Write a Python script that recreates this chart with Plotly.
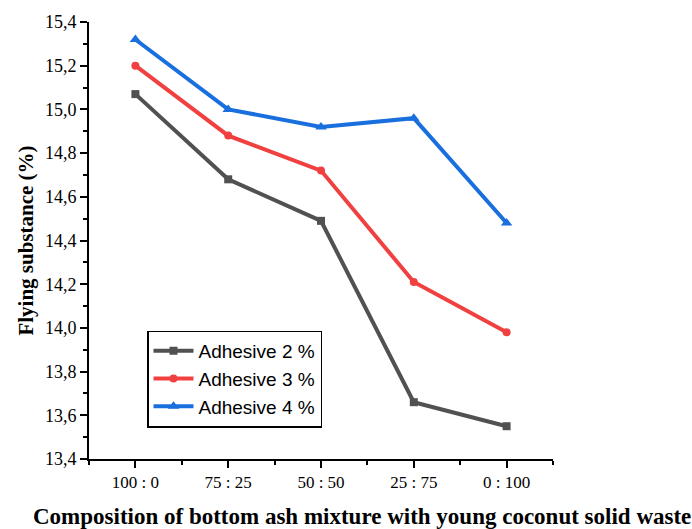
import plotly.graph_objects as go

categories = ["100 : 0", "75 : 25", "50 : 50", "25 : 75", "0 : 100"]
adh2 = [15.07, 14.68, 14.49, 13.66, 13.55]
adh3 = [15.20, 14.88, 14.72, 14.21, 13.98]
adh4 = [15.32, 15.00, 14.92, 14.96, 14.48]
series_names = ["Adhesive 2 %", "Adhesive 3 %", "Adhesive 4 %"]
y_ticks = [13.4, 13.6, 13.8, 14.0, 14.2, 14.4, 14.6, 14.8, 15.0, 15.2, 15.4]
x_title = "Composition of bottom ash mixture with young coconut solid waste"
y_title = "Flying substance (%)"

colors = ["#515151", "#F14040", "#1A6FDF"]
symbols = ["square", "circle", "triangle-up"]
msizes = [8, 8, 10]
serif = "Liberation Serif, Times New Roman, serif"

x_idx = list(range(len(categories)))
fig = go.Figure()
for name, vals, c, s, ms in zip(series_names, [adh2, adh3, adh4], colors, symbols, msizes):
    fig.add_trace(go.Scatter(
        x=x_idx, y=vals, name=name, mode="lines+markers",
        line=dict(color=c, width=4),
        marker=dict(symbol=s, size=ms, color=c),
    ))

fig.update_layout(
    width=692, height=529,
    margin=dict(l=89, r=139, t=20, b=70),
    plot_bgcolor="white", paper_bgcolor="white",
    separators=",.",
    showlegend=True,
    legend=dict(
        x=0.125, y=0.294, xanchor="left", yanchor="top",
        bordercolor="black", borderwidth=1.5, bgcolor="white",
        font=dict(family="Liberation Sans, Arial", size=19, color="black"),
        tracegroupgap=0, itemwidth=40,
    ),
    annotations=[dict(
        text="<b>" + x_title + "</b>", xref="paper", yref="paper",
        x=0.588, y=-0.132, xanchor="center", yanchor="middle", showarrow=False,
        font=dict(family=serif, size=23, color="black"),
    )],
)
fig.update_xaxes(
    range=[-0.5, 4.5],
    tickmode="array", tickvals=x_idx, ticktext=categories,
    showline=True, linecolor="black", linewidth=2,
    ticks="outside", ticklen=7, tickwidth=2, tickcolor="black",
    minor=dict(tickmode="array", tickvals=[-0.5, 0.5, 1.5, 2.5, 3.5, 4.5], ticks="outside", ticklen=4, tickwidth=2, tickcolor="black"),
    showgrid=False, zeroline=False,
    tickfont=dict(family=serif, size=17, color="black"),
)
fig.update_yaxes(
    range=[13.4, 15.4],
    tickmode="array", tickvals=y_ticks, tickformat=".1f",
    showline=True, linecolor="black", linewidth=2,
    ticks="outside", ticklen=7, tickwidth=2, tickcolor="black",
    minor=dict(dtick=0.1, ticks="outside", ticklen=4, tickwidth=2, tickcolor="black"),
    showgrid=False, zeroline=False,
    tickfont=dict(family=serif, size=18, color="black"),
    title=dict(text="<b>" + y_title + "</b>",
               font=dict(family=serif, size=21, color="black"),
               standoff=6),
)

fig.write_html("out.html")
